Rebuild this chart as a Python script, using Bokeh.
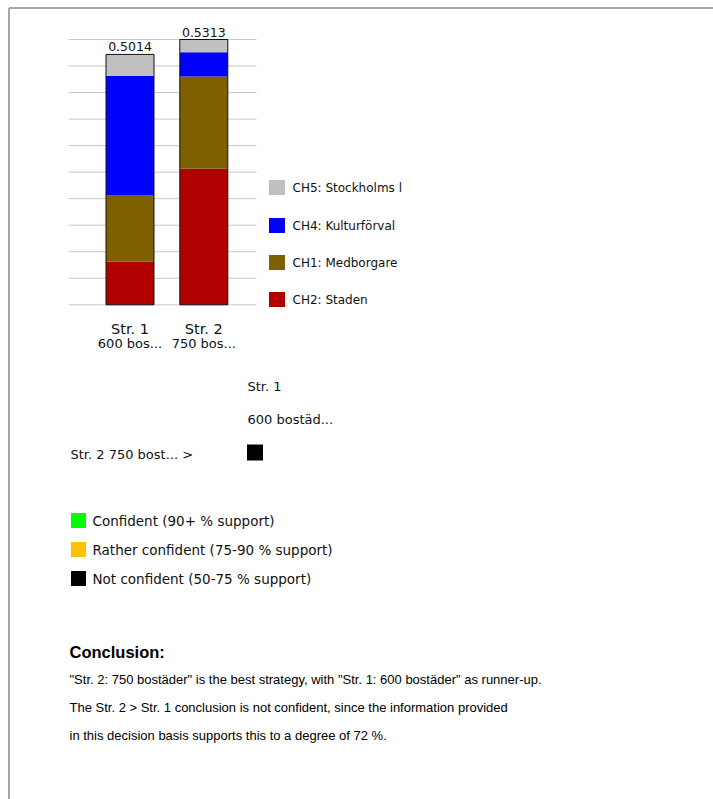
import numpy as np
from bokeh.plotting import figure
from bokeh.models import Range1d, ColumnDataSource
from bokeh.core.properties import value
from bokeh.embed import file_html
from bokeh.resources import INLINE

# ---------------- data ----------------
strategies = ["Str. 1", "Str. 2"]
strategy_subs = ["600 bos...", "750 bos..."]
criteria = ["CH2: Staden", "CH1: Medborgare", "CH4: Kulturförval", "CH5: Stockholms l"]
ch2_staden = [0.0865, 0.2724]
ch1_medborgare = [0.1333, 0.1848]
ch4_kultur = [0.2386, 0.0487]
ch5_stockholm = [0.0430, 0.0254]
total_labels = ["0.5014", "0.5313"]
crit_colors = ["#B00000", "#7F6000", "#0000FF", "#C0C0C0"]

conf_labels = ["Confident (90+ % support)",
               "Rather confident (75-90 % support)",
               "Not confident (50-75 % support)"]
conf_colors = ["#00FF00", "#FFC000", "#000000"]

conclusion_title = "Conclusion:"
conclusion_lines = [
    "\"Str. 2: 750 bostäder\" is the best strategy, with \"Str. 1: 600 bostäder\" as runner-up.",
    "The Str. 2 > Str. 1 conclusion is not confident, since the information provided",
    "in this decision basis supports this to a degree of  72 %.",
]

# ---------------- layout constants (pixels) ----------------
W, H = 713, 799
base_px, top_px = 304.3, 39.0       # bar axis: 0 and max value
bar1_px, step_px = 129.5, 73.8       # centre of first bar, spacing

series = [ch2_staden, ch1_medborgare, ch4_kultur, ch5_stockholm]
totals = np.sum(np.array(series), axis=0)
ymax = float(totals.max())
k = ymax / (base_px - top_px)

p = figure(width=W, height=H, output_backend="svg", toolbar_location=None,
           x_range=Range1d(0, W), y_range=Range1d(H, 0),
           min_border=0, outline_line_color=None)
p.axis.visible = False
p.grid.visible = False
p.background_fill_color = "white"
p.border_fill_color = "white"

p.extra_x_ranges = {"bx": Range1d(1 - bar1_px / step_px, 1 - bar1_px / step_px + W / step_px)}
p.extra_y_ranges = {"by": Range1d(-(H - base_px) * k, base_px * k)}

FONT = value("DejaVu Sans")
FONT2 = value("Liberation Sans")

# page border
p.segment(x0=[8.5, 8.5], y0=[7.5, 7.5], x1=[W, 8.5], y1=[7.5, H],
          line_color="#A8A8A8", line_width=2)

# gridlines of bar chart
ticks = np.linspace(0, ymax, 11)
p.segment(x0=[68] * len(ticks), x1=[256] * len(ticks), y0=ticks, y1=ticks,
          y_range_name="by", line_color="#C8C8C8", line_width=1)

# stacked bars
xs = np.arange(1, len(strategies) + 1)
bottom = np.zeros(len(strategies))
for vals, col in zip(series, crit_colors):
    top = bottom + np.array(vals)
    p.vbar(x=xs, width=0.65, bottom=bottom, top=top, fill_color=col,
           line_color=None, x_range_name="bx", y_range_name="by")
    bottom = top
p.vbar(x=xs, width=0.65, bottom=0, top=totals, fill_color=None,
       line_color="#111111", line_width=1, x_range_name="bx", y_range_name="by")

# value labels
src = ColumnDataSource(dict(x=xs, y=totals, t=total_labels))
p.text(x="x", y="y", text="t", source=src, x_range_name="bx", y_range_name="by",
       text_align="center", text_baseline="bottom", y_offset=-3,
       text_font=FONT, text_font_size="12.5px", text_color="#111111")

# category labels
p.text(x=xs, y=[328] * 2, text=strategies, x_range_name="bx",
       text_align="center", text_baseline="middle",
       text_font=FONT, text_font_size="14.5px", text_color="#111111")
p.text(x=xs, y=[343] * 2, text=strategy_subs, x_range_name="bx",
       text_align="center", text_baseline="middle",
       text_font=FONT, text_font_size="13px", text_color="#111111")

# criteria legend (top item = last stacked)
leg_y = [187, 225, 262, 299]
leg_names = criteria[::-1]
leg_cols = crit_colors[::-1]
p.rect(x=[276.5] * 4, y=leg_y, width=16, height=15, fill_color=leg_cols,
       line_color=None)
p.text(x=[292] * 4, y=leg_y, text=leg_names, text_baseline="middle",
       text_font=FONT, text_font_size="12px", text_color="#111111")

# pairwise comparison table
p.text(x=[247, 247, 70], y=[386, 419, 454],
       text=["Str. 1", "600 bostäd...", "Str. 2 750 bost... >"],
       text_baseline="middle", text_font=FONT, text_font_size="13px",
       text_color="#111111")
p.rect(x=[254.5], y=[452], width=16, height=16, fill_color="#000000", line_color=None)

# confidence legend
cy = [520, 549, 578]
p.rect(x=[78] * 3, y=cy, width=15, height=15, fill_color=conf_colors, line_color=None)
p.text(x=[92] * 3, y=cy, text=conf_labels, text_baseline="middle",
       text_font=FONT, text_font_size="13.5px", text_color="#111111")

# conclusion
p.text(x=[69], y=[651], text=[conclusion_title], text_baseline="middle",
       text_font=FONT2, text_font_size="16.5px", text_font_style="bold",
       text_color="#000000")
p.text(x=[69] * 3, y=[679, 707, 735], text=conclusion_lines, text_baseline="middle",
       text_font=FONT2, text_font_size="13px", text_color="#000000")

open("out.html", "w").write(file_html(p, INLINE))
